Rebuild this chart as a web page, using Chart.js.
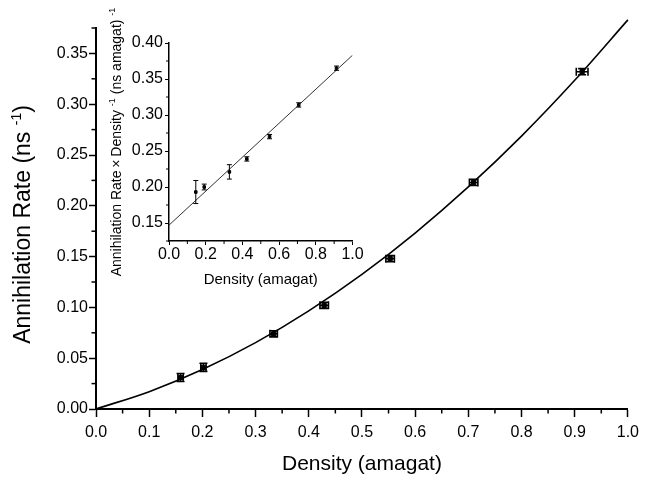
<!DOCTYPE html>
<html>
<head>
<meta charset="utf-8">
<script src="https://cdn.jsdelivr.net/npm/chart.js@4.4.0/dist/chart.umd.min.js"></script>
<style>
  html, body { margin: 0; padding: 0; background: #fff; }
  #wrap { position: relative; width: 645px; height: 480px; }
  #main { position: absolute; left: 0; top: 0; }
  #inset { position: absolute; left: 95px; top: 0; }
</style>
</head>
<body>
<div id="wrap">
  <canvas id="main" width="645" height="480"></canvas>
  <canvas id="inset" width="270" height="300"></canvas>
</div>
<script>
// main plot: measured points
var density = [0.159, 0.202, 0.334, 0.429, 0.553, 0.710, 0.914];
var rate = [0.031, 0.041, 0.074, 0.102, 0.148, 0.223, 0.332];
var densityErr = [0.005, 0.005, 0.007, 0.008, 0.008, 0.008, 0.011];
var rateErr = [0.004, 0.004, 0.003, 0.003, 0.003, 0.003, 0.003];

// main plot: fitted curve
var fitDensity = [0, 0.1, 0.2, 0.3, 0.4, 0.5, 0.6, 0.7, 0.8, 0.9, 1.0];
var fitRate = [0, 0.0171, 0.0388, 0.0653, 0.0966, 0.1325, 0.1732, 0.2186, 0.2686, 0.3235, 0.383];

// inset: rate x density^-1
var insetDensity = [0.146, 0.192, 0.329, 0.424, 0.548, 0.707, 0.913];
var insetRatio = [0.193, 0.200, 0.221, 0.239, 0.270, 0.314, 0.365];
var insetErr = [0.016, 0.004, 0.010, 0.003, 0.003, 0.003, 0.003];
var insetFitDensity = [0, 1.0];
var insetFitRatio = [0.147, 0.383];

// tick labels
var mainXTicks = [0, 0.1, 0.2, 0.3, 0.4, 0.5, 0.6, 0.7, 0.8, 0.9, 1.0];
var mainYTicks = [0, 0.05, 0.10, 0.15, 0.20, 0.25, 0.30, 0.35];
var insetXTicks = [0, 0.2, 0.4, 0.6, 0.8, 1.0];
var insetYTicks = [0.15, 0.20, 0.25, 0.30, 0.35, 0.40];

var FONT = "'Liberation Sans', Arial, Helvetica, sans-serif";

function pts(xs, ys) {
    return xs.map(function (v, i) { return { x: v, y: ys[i] }; });
}

// error bars with caps
var errorBars = {
    id: "errorBars",
    afterDatasetsDraw: function (chart) {
        var ctx = chart.ctx;
        var xs = chart.scales.x, ys = chart.scales.y;
        chart.data.datasets.forEach(function (ds) {
            if (!ds.errX && !ds.errY) return;
            ctx.save();
            ctx.strokeStyle = "#000";
            ctx.lineWidth = ds.errWidth || 1;
            var cap = ds.capSize || 3;
            ds.data.forEach(function (p, i) {
                var px = xs.getPixelForValue(p.x), py = ys.getPixelForValue(p.y);
                ctx.beginPath();
                if (ds.errX) {
                    var x1 = xs.getPixelForValue(p.x - ds.errX[i]);
                    var x2 = xs.getPixelForValue(p.x + ds.errX[i]);
                    ctx.moveTo(x1, py); ctx.lineTo(x2, py);
                    ctx.moveTo(x1, py - cap); ctx.lineTo(x1, py + cap);
                    ctx.moveTo(x2, py - cap); ctx.lineTo(x2, py + cap);
                }
                if (ds.errY) {
                    var y1 = ys.getPixelForValue(p.y - ds.errY[i]);
                    var y2 = ys.getPixelForValue(p.y + ds.errY[i]);
                    ctx.moveTo(px, y1); ctx.lineTo(px, y2);
                    ctx.moveTo(px - cap, y1); ctx.lineTo(px + cap, y1);
                    ctx.moveTo(px - cap, y2); ctx.lineTo(px + cap, y2);
                }
                ctx.stroke();
            });
            ctx.restore();
        });
    }
};

// minor ticks halfway between the major ones
var minorTicks = {
    id: "minorTicks",
    afterDraw: function (chart, args, opts) {
        var ctx = chart.ctx, area = chart.chartArea;
        ctx.save();
        ctx.strokeStyle = "#000";
        ctx.lineWidth = opts.width || 1;
        ["x", "y"].forEach(function (id) {
            var s = chart.scales[id];
            var t = s.ticks;
            var half = (t[1].value - t[0].value) / 2;
            for (var v = t[0].value - half; v <= s.max + 1e-9; v += half * 2) {
                if (v < s.min - 1e-9) continue;
                var p = s.getPixelForValue(v);
                ctx.beginPath();
                if (id === "x") {
                    ctx.moveTo(p, area.bottom); ctx.lineTo(p, area.bottom + opts.len);
                } else {
                    ctx.moveTo(area.left, p); ctx.lineTo(area.left - opts.len, p);
                }
                ctx.stroke();
            }
        });
        ctx.restore();
    }
};

// rotated axis title with superscripts
var yTitle = {
    id: "yTitle",
    afterDraw: function (chart, args, opts) {
        var ctx = chart.ctx, area = chart.chartArea;
        var big = opts.size + "px " + FONT, small = Math.round(opts.size * 0.62) + "px " + FONT;
        ctx.save();
        ctx.fillStyle = "#000";
        ctx.textBaseline = "alphabetic";
        var total = 0;
        opts.parts.forEach(function (p) {
            ctx.font = p.sup ? small : big;
            total += ctx.measureText(p.t).width;
        });
        ctx.translate(opts.x, (area.top + area.bottom) / 2 + (opts.dy || 0));
        ctx.rotate(-Math.PI / 2);
        var x = -total / 2, base = opts.size * 0.36;
        opts.parts.forEach(function (p) {
            ctx.font = p.sup ? small : big;
            ctx.fillText(p.t, x, p.sup ? base - opts.size * 0.42 : base);
            x += ctx.measureText(p.t).width;
        });
        ctx.restore();
    }
};

function axis(o) {
    return {
        type: "linear",
        min: o.min, max: o.max,
        afterBuildTicks: function (scale) {
            scale.ticks = o.ticks.map(function (v) { return { value: v }; });
        },
        afterFit: function (scale) {
            if (o.width) scale.width = o.width;
            if (o.height) scale.height = o.height;
        },
        border: { display: true, color: "#000", width: o.border },
        grid: { display: true, drawOnChartArea: false, drawTicks: true,
                tickLength: o.tickLen, tickColor: "#000", tickWidth: o.tickWidth },
        ticks: {
            color: "#000", padding: o.pad, autoSkip: false, maxRotation: 0,
            font: { family: FONT, size: o.font },
            callback: function (v) { return Number(v).toFixed(o.dec); }
        },
        title: o.title ? { display: true, text: o.title, color: "#000",
                           font: { family: FONT, size: o.titleSize },
                           padding: { top: 0, bottom: o.titlePad } } : { display: false }
    };
}

new Chart(document.getElementById("main"), {
    type: "scatter",
    data: {
        datasets: [
            {
                data: pts(fitDensity, fitRate),
                showLine: true, pointRadius: 0, borderColor: "#000", borderWidth: 1.6,
                cubicInterpolationMode: "monotone", clip: false
            },
            {
                data: pts(density, rate),
                pointStyle: "rect", pointRadius: 3, backgroundColor: "#000", borderColor: "#000",
                errX: densityErr, errY: rateErr, errWidth: 1.6, capSize: 4
            }
        ]
    },
    options: {
        responsive: false, animation: false,
        layout: { padding: { left: 0, right: 13, top: 28, bottom: 0 } },
        plugins: {
            legend: { display: false }, tooltip: { enabled: false },
            minorTicks: { len: 4.5, width: 1.5 },
            yTitle: { x: 22, dy: 6, size: 23, parts: [
                { t: "Annihilation Rate (ns " }, { t: "-1", sup: true }, { t: ")" }] }
        },
        scales: {
            x: axis({ min: 0, max: 1, ticks: mainXTicks, dec: 1, height: 71, border: 2,
                      tickLen: 8, tickWidth: 1.5, pad: 6, font: 16,
                      title: "Density (amagat)", titleSize: 21, titlePad: 3 }),
            y: axis({ min: 0, max: 0.375, ticks: mainYTicks, dec: 2, width: 96, border: 2,
                      tickLen: 7, tickWidth: 1.5, pad: 1, font: 16 })
        }
    },
    plugins: [errorBars, minorTicks, yTitle]
});

new Chart(document.getElementById("inset"), {
    type: "scatter",
    data: {
        datasets: [
            {
                data: pts(insetFitDensity, insetFitRatio),
                showLine: true, pointRadius: 0, borderColor: "#333", borderWidth: 1
            },
            {
                data: pts(insetDensity, insetRatio),
                pointStyle: "rect", pointRadius: 1.8, backgroundColor: "#000", borderColor: "#000",
                errY: insetErr, errWidth: 1, capSize: 2.5
            }
        ]
    },
    options: {
        responsive: false, animation: false,
        layout: { padding: { left: 0, right: 12.5, top: 43, bottom: 0 } },
        plugins: {
            legend: { display: false }, tooltip: { enabled: false },
            minorTicks: { len: 3, width: 1 },
            yTitle: { x: 21, size: 14, parts: [
                { t: "Annihilation Rate\u2009\u00d7\u2009Density " }, { t: "-1", sup: true },
                { t: " (ns amagat) " }, { t: "-1", sup: true }] }
        },
        scales: {
            x: axis({ min: 0, max: 1, ticks: insetXTicks, dec: 1, height: 59, border: 1.5,
                      tickLen: 4, tickWidth: 1, pad: 0, font: 16,
                      title: "Density (amagat)", titleSize: 15, titlePad: 11 }),
            y: axis({ min: 0.125, max: 0.40, ticks: insetYTicks, dec: 2, width: 74, border: 1.5,
                      tickLen: 4, tickWidth: 1, pad: 2, font: 16 })
        }
    },
    plugins: [errorBars, minorTicks, yTitle]
});
</script>
</body>
</html>
